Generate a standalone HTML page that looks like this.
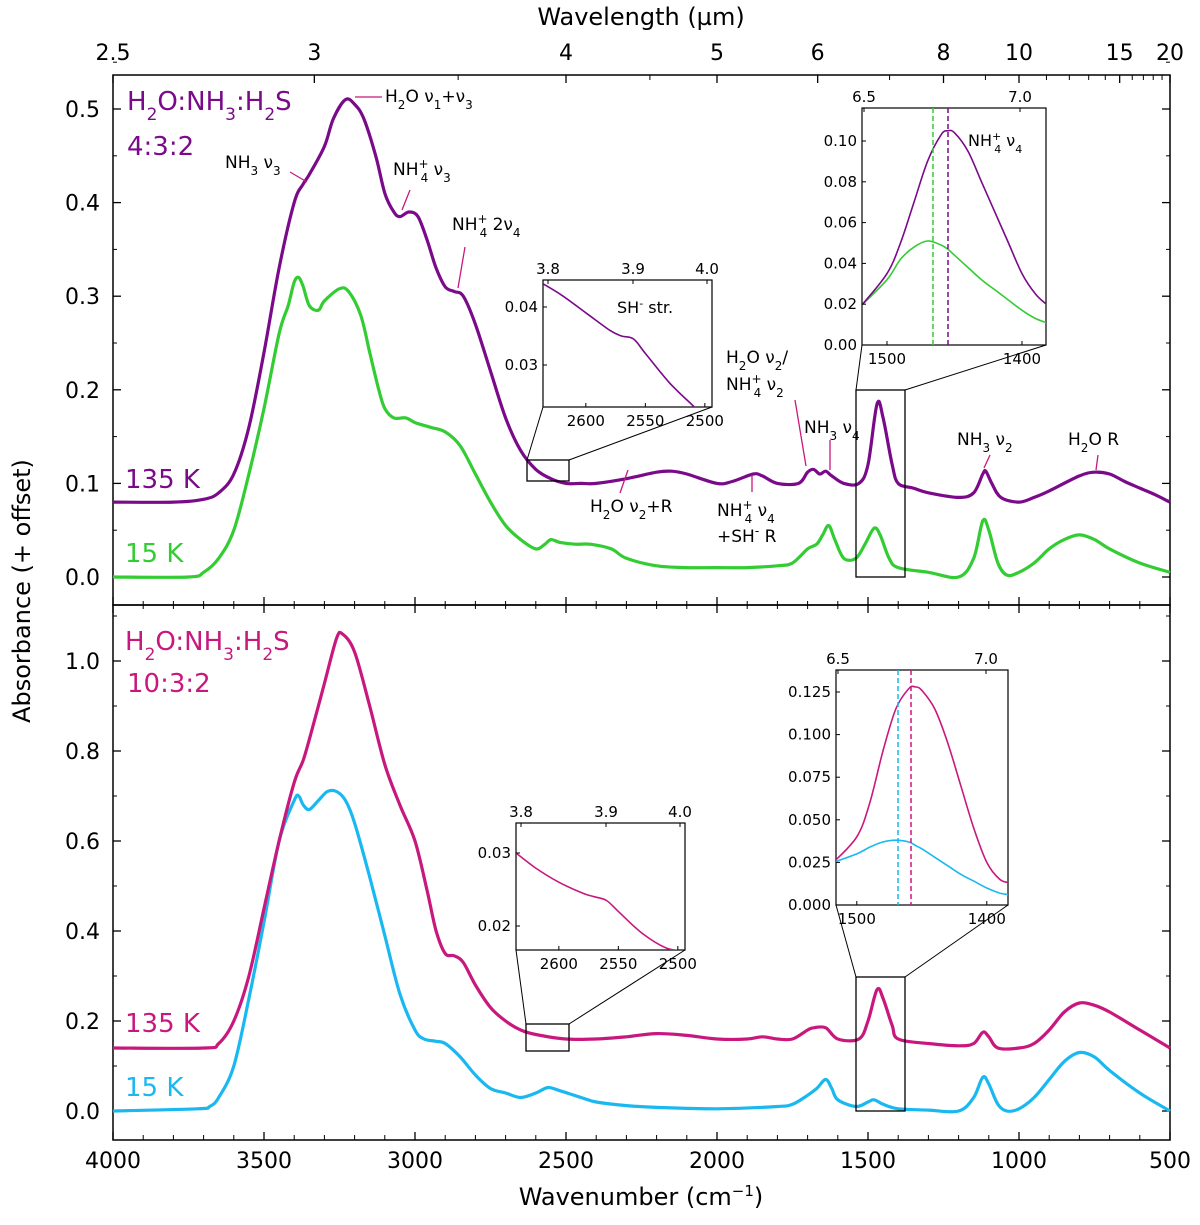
<!DOCTYPE html>
<html><head><meta charset="utf-8"><style>
body{margin:0;background:#fff}
svg{font-family:"DejaVu Sans","Liberation Sans",sans-serif}
</style></head><body>
<svg id="fig" width="1200" height="1220" viewBox="0 0 1200 1220" xmlns="http://www.w3.org/2000/svg"></svg>
<script>
// ---- data ----
const wnP135=[4000,3800,3700,3650,3600,3550,3500,3450,3400,3370,3350,3300,3270,3230,3200,3170,3130,3100,3070,3050,3020,2990,2960,2930,2900,2870,2840,2800,2750,2700,2650,2600,2550,2500,2450,2400,2300,2200,2150,2100,2000,1950,1880,1850,1800,1730,1700,1680,1660,1640,1620,1580,1530,1500,1470,1450,1420,1400,1350,1300,1200,1150,1120,1110,1090,1060,1000,950,900,800,750,700,650,600,550,500];
const absP135=[0.08,0.08,0.083,0.09,0.11,0.16,0.24,0.33,0.40,0.42,0.43,0.46,0.49,0.51,0.505,0.49,0.45,0.41,0.39,0.385,0.39,0.385,0.36,0.33,0.31,0.305,0.30,0.27,0.22,0.17,0.135,0.115,0.105,0.10,0.10,0.10,0.105,0.112,0.113,0.11,0.10,0.102,0.11,0.108,0.10,0.10,0.112,0.115,0.11,0.113,0.108,0.10,0.10,0.12,0.185,0.17,0.12,0.10,0.095,0.09,0.085,0.09,0.11,0.113,0.10,0.085,0.08,0.085,0.092,0.108,0.112,0.11,0.102,0.095,0.088,0.08];
const wnG15=[4000,3750,3700,3650,3600,3550,3500,3450,3420,3400,3385,3370,3350,3320,3300,3250,3220,3180,3150,3120,3100,3070,3030,3000,2950,2900,2850,2800,2750,2700,2650,2600,2570,2550,2520,2470,2420,2350,2300,2200,2100,2000,1900,1800,1750,1700,1670,1650,1630,1610,1580,1540,1510,1480,1460,1430,1400,1300,1200,1150,1120,1100,1070,1040,1000,950,900,850,800,750,700,600,500];
const absG15=[0,0,0.005,0.02,0.05,0.11,0.18,0.26,0.29,0.315,0.32,0.31,0.29,0.285,0.295,0.308,0.305,0.28,0.24,0.2,0.18,0.17,0.17,0.165,0.16,0.155,0.14,0.11,0.08,0.055,0.04,0.03,0.035,0.04,0.037,0.035,0.035,0.03,0.02,0.012,0.01,0.01,0.01,0.012,0.015,0.03,0.035,0.045,0.055,0.04,0.02,0.02,0.035,0.052,0.045,0.02,0.01,0.005,0.0,0.02,0.06,0.05,0.015,0.002,0.005,0.015,0.03,0.04,0.045,0.04,0.03,0.015,0.005];
const wnM135=[4000,3700,3650,3600,3550,3500,3450,3400,3370,3340,3300,3260,3240,3200,3150,3100,3050,3000,2960,2930,2900,2870,2840,2800,2750,2700,2650,2600,2500,2400,2300,2200,2100,2000,1900,1850,1800,1750,1700,1680,1640,1600,1530,1500,1470,1450,1420,1400,1300,1200,1150,1120,1100,1070,1000,950,900,850,800,750,700,600,500];
const absM135=[0.14,0.14,0.15,0.2,0.3,0.45,0.6,0.73,0.78,0.85,0.95,1.05,1.06,1.02,0.9,0.77,0.68,0.6,0.49,0.4,0.35,0.345,0.33,0.28,0.23,0.2,0.18,0.17,0.16,0.16,0.165,0.172,0.168,0.16,0.16,0.165,0.16,0.16,0.18,0.185,0.185,0.16,0.16,0.2,0.27,0.25,0.19,0.16,0.15,0.145,0.15,0.175,0.165,0.14,0.14,0.15,0.18,0.22,0.24,0.235,0.22,0.18,0.14];
const wnC15=[4000,3720,3680,3650,3600,3550,3500,3450,3400,3385,3370,3350,3320,3290,3260,3230,3200,3150,3100,3050,3000,2970,2930,2900,2850,2800,2750,2700,2650,2600,2560,2520,2450,2400,2300,2200,2000,1800,1750,1700,1670,1640,1620,1600,1540,1500,1480,1450,1400,1300,1200,1150,1120,1100,1070,1040,1000,950,900,850,800,750,700,600,500];
const absC15=[0,0.005,0.01,0.03,0.1,0.25,0.42,0.6,0.69,0.7,0.68,0.67,0.69,0.71,0.71,0.69,0.64,0.52,0.39,0.26,0.18,0.16,0.155,0.15,0.12,0.08,0.05,0.04,0.03,0.04,0.052,0.045,0.03,0.02,0.012,0.008,0.005,0.01,0.015,0.035,0.05,0.07,0.05,0.025,0.01,0.02,0.025,0.015,0.005,0.002,0,0.03,0.075,0.06,0.015,0,0.005,0.03,0.07,0.11,0.13,0.12,0.09,0.04,0];
const wnSH=[2636,2620,2600,2580,2570,2560,2550,2530,2510,2494];
const absSHtop=[0.044,0.042,0.039,0.036,0.035,0.0345,0.032,0.027,0.023,0.020];
const absSHbot=[0.030,0.028,0.026,0.0245,0.024,0.0235,0.022,0.019,0.017,0.0165];
const wnN=[1518,1500,1490,1480,1470,1460,1455,1450,1440,1430,1420,1410,1400,1390,1382];
const absNtopP=[0.02,0.035,0.05,0.07,0.09,0.103,0.105,0.104,0.095,0.08,0.065,0.05,0.035,0.025,0.02];
const absNtopG=[0.02,0.032,0.042,0.048,0.051,0.049,0.047,0.044,0.038,0.032,0.027,0.022,0.017,0.013,0.011];
const absNbotM=[0.025,0.04,0.06,0.09,0.115,0.127,0.128,0.126,0.115,0.095,0.07,0.045,0.025,0.015,0.013];
const absNbotC=[0.025,0.03,0.034,0.037,0.038,0.037,0.035,0.033,0.028,0.023,0.018,0.014,0.01,0.007,0.006];
const wlTicks=[2.5,3,4,5,6,8,10,15,20];
const wlMinor=[3.5,4.5,7,9,11,12,13,14,16,17,18,19];
const wnTicks=[4000,3500,3000,2500,2000,1500,1000,500];
const yTopTicks=[0,0.1,0.2,0.3,0.4,0.5];
const yBotTicks=[0,0.2,0.4,0.6,0.8,1.0];

const NS="http://www.w3.org/2000/svg";
const svg=document.getElementById('fig');
function el(tag,attrs,parent,txt){const e=document.createElementNS(NS,tag);for(const k in attrs)e.setAttribute(k,attrs[k]);if(txt!==undefined)e.textContent=txt;(parent||svg).appendChild(e);return e;}
const X=w=>113+(4000-w)*1057/3500;
const Ytop=v=>577-v*936;
const Ybot=v=>1111-v*450;
const TOPY=75;
function smooth(pts){let d=`M${pts[0][0]},${pts[0][1]}`;for(let i=0;i<pts.length-1;i++){const p0=pts[Math.max(0,i-1)],p1=pts[i],p2=pts[i+1],p3=pts[Math.min(pts.length-1,i+2)];const c1=[p1[0]+(p2[0]-p0[0])/6,p1[1]+(p2[1]-p0[1])/6],c2=[p2[0]-(p3[0]-p1[0])/6,p2[1]-(p3[1]-p1[1])/6];d+=`C${c1[0].toFixed(1)},${c1[1].toFixed(1)} ${c2[0].toFixed(1)},${c2[1].toFixed(1)} ${p2[0].toFixed(1)},${p2[1].toFixed(1)}`;}return d;}
function series(wn,ab,fx,fy,color,w,name){const p=el('path',{d:smooth(wn.map((x,i)=>[fx(x),fy(ab[i])])),fill:'none',stroke:color,'stroke-width':w,'stroke-linejoin':'round'});

return p;}
function txt(x,y,s,size,color,anchor,name,parent){const t=el('text',{x:x,y:y,'font-size':size,fill:color||'#000','text-anchor':anchor||'start'},parent);t.innerHTML=s;

return t;}
function line(x1,y1,x2,y2,c,w,extra){return el('line',Object.assign({x1,y1,x2,y2,stroke:c||'#000','stroke-width':w||1},extra||{}));}

const PUR='#7a0a8a',GRN='#33cc33',MAG='#c8187e',CYA='#1ab8f0';

// panels frames
const topPanel=el('rect',{x:113,y:TOPY,width:1057,height:605-TOPY,fill:'none',stroke:'#000','stroke-width':1.5});


const botPanel=el('rect',{x:113,y:605,width:1057,height:535,fill:'none',stroke:'#000','stroke-width':1.5});



// x ticks bottom
wnTicks.forEach(w=>{const x=X(w);line(x,1140,x,1132,'#000',1.3);line(x,605,x,597,'#000',1.3);line(x,605,x,613,'#000',1.3);
 txt(x,1168,w,22,'#000','middle','x-tick-label');});
for(let w=4000;w>=500;w-=100){if(w%500){const x=X(w);line(x,1140,x,1135,'#000',1);line(x,605,x,601,'#000',1);line(x,605,x,609,'#000',1);}}
txt(641,1205,'Wavenumber (cm<tspan baseline-shift="super" font-size="15">−1</tspan>)',24,'#000','middle','x-axis-title');
// top wavelength axis
wlTicks.forEach(l=>{const x=X(10000/l);line(x,TOPY,x,TOPY+8,'#000',1.3);txt(x,60,l,22,'#000','middle','top-tick-label');});
wlMinor.forEach(l=>{const x=X(10000/l);line(x,TOPY,x,TOPY+5,'#000',1);});
txt(641,25,'Wavelength (µm)',24,'#000','middle','top-axis-title');
// y ticks
yTopTicks.forEach(v=>{const y=Ytop(v);line(113,y,121,y,'#000',1.3);line(1170,y,1162,y,'#000',1.3);txt(100,y+8,v.toFixed(1),22,'#000','end','y-tick-label-top');});
for(let v=0.05;v<0.56;v+=0.1){const y=Ytop(v);line(113,y,117,y);line(1170,y,1166,y);}
yBotTicks.forEach(v=>{const y=Ybot(v);line(113,y,121,y,'#000',1.3);line(1170,y,1162,y,'#000',1.3);txt(100,y+8,v.toFixed(1),22,'#000','end','y-tick-label-bottom');});
for(let v=0.1;v<1.1;v+=0.2){const y=Ybot(v);line(113,y,117,y);line(1170,y,1166,y);}
const yt=txt(30,591,'Absorbance (+ offset)',24,'#000','middle','y-axis-title');yt.setAttribute('transform','rotate(-90 30 591)');

// main series
series(wnG15,absG15,X,Ytop,GRN,3.2,'series-15k-top');
series(wnP135,absP135,X,Ytop,PUR,3.2,'series-135k-top');
series(wnC15,absC15,X,Ybot,CYA,3.2,'series-15k-bottom');
series(wnM135,absM135,X,Ybot,MAG,3.2,'series-135k-bottom');

// labels
txt(127,110,'H<tspan baseline-shift="sub" font-size="17">2</tspan>O:NH<tspan baseline-shift="sub" font-size="17">3</tspan>:H<tspan baseline-shift="sub" font-size="17">2</tspan>S',26,PUR,'start','mixture-label-top');
txt(127,155,'4:3:2',26,PUR,'start','ratio-label-top');
txt(125,488,'135 K',26,PUR,'start','label-135k-top');
txt(125,562,'15 K',26,GRN,'start','label-15k-top');
txt(125,650,'H<tspan baseline-shift="sub" font-size="17">2</tspan>O:NH<tspan baseline-shift="sub" font-size="17">3</tspan>:H<tspan baseline-shift="sub" font-size="17">2</tspan>S',26,MAG,'start','mixture-label-bottom');
txt(127,692,'10:3:2',26,MAG,'start','ratio-label-bottom');
txt(125,1032,'135 K',26,MAG,'start','label-135k-bottom');
txt(125,1096,'15 K',26,CYA,'start','label-15k-bottom');

// annotations
const ann=[[385,102,'H<tspan baseline-shift="sub" font-size="12">2</tspan>O ν<tspan baseline-shift="sub" font-size="12">1</tspan>+ν<tspan baseline-shift="sub" font-size="12">3</tspan>',[355,97,382,97]],
[225,168,'NH<tspan baseline-shift="sub" font-size="12">3</tspan> ν<tspan baseline-shift="sub" font-size="12">3</tspan>',[290,172,307,182]],
[393,175,'NH<tspan baseline-shift="super" font-size="12">+</tspan><tspan font-size="12" dx="-8" baseline-shift="sub">4</tspan> ν<tspan baseline-shift="sub" font-size="12">3</tspan>',[410,190,402,210]],
[452,230,'NH<tspan baseline-shift="super" font-size="12">+</tspan><tspan font-size="12" dx="-8" baseline-shift="sub">4</tspan> 2ν<tspan baseline-shift="sub" font-size="12">4</tspan>',[465,247,458,288]],
[590,512,'H<tspan baseline-shift="sub" font-size="12">2</tspan>O ν<tspan baseline-shift="sub" font-size="12">2</tspan>+R',[620,493,628,470]],
[717,516,'NH<tspan baseline-shift="super" font-size="12">+</tspan><tspan font-size="12" dx="-8" baseline-shift="sub">4</tspan> ν<tspan baseline-shift="sub" font-size="12">4</tspan>',[752,492,752,475]],
[717,542,'+SH<tspan baseline-shift="super" font-size="12">-</tspan> R',null],
[726,363,'H<tspan baseline-shift="sub" font-size="12">2</tspan>O ν<tspan baseline-shift="sub" font-size="12">2</tspan>/',null],
[726,390,'NH<tspan baseline-shift="super" font-size="12">+</tspan><tspan font-size="12" dx="-8" baseline-shift="sub">4</tspan> ν<tspan baseline-shift="sub" font-size="12">2</tspan>',[795,400,806,466]],
[804,433,'NH<tspan baseline-shift="sub" font-size="12">3</tspan> ν<tspan baseline-shift="sub" font-size="12">4</tspan>',[830,440,830,470]],
[957,445,'NH<tspan baseline-shift="sub" font-size="12">3</tspan> ν<tspan baseline-shift="sub" font-size="12">2</tspan>',[990,455,984,468]],
[1068,445,'H<tspan baseline-shift="sub" font-size="12">2</tspan>O R',[1098,455,1096,470]]];
ann.forEach(a=>{txt(a[0],a[1],a[2],17,'#000','start','band-annotation');if(a[3])line(a[3][0],a[3][1],a[3][2],a[3][3],'#c8187e',1.3);});

// boxes + connectors
function zoombox(bx,by,bw,bh,ix,iy,iw,ih,name){const r=el('rect',{x:bx,y:by,width:bw,height:bh,fill:'none',stroke:'#000','stroke-width':1.3});


line(bx,by,ix,iy+ih,'#000',1);line(bx+bw,by,ix+iw,iy+ih,'#000',1);}
zoombox(527,460,42,21,543,280,169,127,'zoom-box-sh-top');
zoombox(856,390,49,187,862,108,184,237,'zoom-box-nh4-top');
zoombox(526,1024,43,27,516,823,169,127,'zoom-box-sh-bottom');
zoombox(856,977,49,134,836,670,172,235,'zoom-box-nh4-bottom');

function inset(ix,iy,iw,ih,fx,fy,xt,yt,tt,ser,name,ydec){const g=el('g',{});


el('rect',{x:ix,y:iy,width:iw,height:ih,fill:'#fff',stroke:'#000','stroke-width':1.2},g);
const cid='c'+name;const cp=el('clipPath',{id:cid},g);el('rect',{x:ix,y:iy,width:iw,height:ih},cp);
const sg=el('g',{'clip-path':`url(#${cid})`},g);
ser.forEach(s=>{if(s.dash){el('line',{x1:s.dash,y1:iy,x2:s.dash,y2:iy+ih,stroke:s.c,'stroke-width':1.5,'stroke-dasharray':'5,3'},g);}});
ser.forEach(s=>{if(s.wn){const p=el('path',{d:smooth(s.wn.map((x,i)=>[fx(x),fy(s.v[i])])),fill:'none',stroke:s.c,'stroke-width':1.6},sg);

}});
xt.forEach(w=>{const x=fx(w);el('line',{x1:x,y1:iy+ih,x2:x,y2:iy+ih-4,stroke:'#000'},g);txt(x,iy+ih+19,w,15,'#000','middle','inset-x-tick',g);});
yt.forEach(v=>{const y=fy(v);el('line',{x1:ix,y1:y,x2:ix+4,y2:y,stroke:'#000'},g);txt(ix-5,y+5,v.toFixed(ydec),15,'#000','end','inset-y-tick',g);});
tt.forEach(t=>{el('line',{x1:t[0],y1:iy,x2:t[0],y2:iy+4,stroke:'#000'},g);txt(t[0],iy-6,t[1],15,'#000','middle','inset-top-tick',g);});}

inset(543,280,169,127,w=>543+(2636-w)*1.19,v=>307+(0.04-v)*5800,[2600,2550,2500],[0.04,0.03],[[548,'3.8'],[633,'3.9'],[707,'4.0']],[{wn:wnSH,v:absSHtop,c:PUR}],'inset-sh-top',2);
txt(617,313,'SH<tspan baseline-shift="super" font-size="11">-</tspan> str.',16,'#000','start','inset-sh-label');
inset(862,108,184,237,w=>862+(1518.5-w)*1.35,v=>345-v*2040,[1500,1400],[0,0.02,0.04,0.06,0.08,0.10],[[864,'6.5'],[1020,'7.0']],[{dash:933,c:GRN},{dash:948,c:PUR},{wn:wnN,v:absNtopG,c:GRN},{wn:wnN,v:absNtopP,c:PUR}],'inset-nh4-top',2);
txt(968,146,'NH<tspan baseline-shift="super" font-size="11">+</tspan><tspan font-size="11" dx="-7" baseline-shift="sub">4</tspan> ν<tspan baseline-shift="sub" font-size="11">4</tspan>',16,'#000','start','inset-nh4-label');
inset(516,823,169,127,w=>516+(2636-w)*1.19,v=>853+(0.03-v)*7300,[2600,2550,2500],[0.03,0.02],[[521,'3.8'],[606,'3.9'],[680,'4.0']],[{wn:wnSH,v:absSHbot,c:MAG}],'inset-sh-bottom',2);
inset(836,670,172,235,w=>836+(1516-w)*1.3,v=>905-v*1704,[1500,1400],[0,0.025,0.05,0.075,0.1,0.125],[[838,'6.5'],[986,'7.0']],[{dash:898,c:CYA},{dash:911,c:MAG},{wn:wnN,v:absNbotC,c:CYA},{wn:wnN,v:absNbotM,c:MAG}],'inset-nh4-bottom',3);
</script>
</body></html>
